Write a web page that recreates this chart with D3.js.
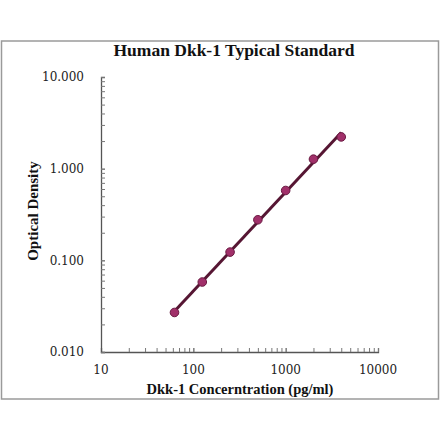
<!DOCTYPE html>
<html>
<head>
<meta charset="utf-8">
<script src="https://cdn.jsdelivr.net/npm/d3@7"></script>
<style>
  body { margin: 0; background: #fff; }
  text { font-family: "Liberation Serif", "Times New Roman", serif; fill: #111; }
  text.tick-label { font-family: "DejaVu Serif", serif; font-size: 12px; fill: #222; }
</style>
</head>
<body>
<script>
var width = 440,
    height = 441;

// standard curve data
var concentrations = [62.5, 125, 250, 500, 1000, 2000, 4000];
var densities = [0.027, 0.058, 0.123, 0.277, 0.578, 1.27, 2.22];
var xTicks = [10, 100, 1000, 10000];
var yTicks = [0.01, 0.1, 1, 10];

var margin = {left: 101, right: 62, top: 77, bottom: 89};

var x = d3.scaleLog()
    .domain([10, 10000])
    .range([margin.left, width - margin.right]);

var y = d3.scaleLog()
    .domain([0.01, 10])
    .range([height - margin.bottom, margin.top]);

var svg = d3.select("body").append("svg")
    .attr("width", width)
    .attr("height", height);

// outer frame
svg.append("rect")
    .attr("x", 1.5)
    .attr("y", 41)
    .attr("width", 437)
    .attr("height", 358)
    .style("fill", "none")
    .style("stroke", "#9a9a9a")
    .style("stroke-width", 1.5);

svg.append("text")
    .attr("x", 234)
    .attr("y", 55.5)
    .attr("text-anchor", "middle")
    .style("font-size", "17.5px")
    .style("font-weight", "bold")
    .text("Human Dkk-1 Typical Standard");

// minor tick positions
function minors(lo, hi) {
    var arr = [];
    for (var e = lo; e < hi; e++) {
        for (var k = 1; k <= 10; k++) {
            arr.push(k * Math.pow(10, e));
        }
    }
    return arr;
}

var xAxis = d3.axisTop(x)
    .tickValues(minors(1, 4))
    .tickSize(4)
    .tickFormat("");
var gx = svg.append("g")
    .attr("transform", "translate(0," + y(0.01) + ")")
    .call(xAxis);

var yAxis = d3.axisRight(y)
    .tickValues(minors(-2, 1))
    .tickSize(4)
    .tickFormat("");
var gy = svg.append("g")
    .attr("transform", "translate(" + x(10) + ",0)")
    .call(yAxis);

[gx, gy].forEach(function(g) {
    g.select(".domain").style("stroke", "#555").style("stroke-width", 1.3);
    g.selectAll(".tick line").style("stroke", "#777");
});

svg.selectAll(".xlab")
    .data(xTicks)
    .enter().append("text")
    .attr("class", "tick-label")
    .attr("x", function(d) { return x(d); })
    .attr("y", y(0.01) + 22)
    .attr("text-anchor", "middle")
    .text(function(d) { return d; });

svg.selectAll(".ylab")
    .data(yTicks)
    .enter().append("text")
    .attr("class", "tick-label")
    .attr("x", 84)
    .attr("y", function(d) { return y(d); })
    .attr("dy", ".35em")
    .attr("text-anchor", "end")
    .text(function(d) { return d.toFixed(3); });

svg.append("text")
    .attr("x", 240)
    .attr("y", 394)
    .attr("text-anchor", "middle")
    .style("font-size", "14.5px")
    .style("font-weight", "bold")
    .text("Dkk-1 Concerntration (pg/ml)");

svg.append("text")
    .attr("transform", "translate(37.5,211) rotate(-90)")
    .attr("text-anchor", "middle")
    .style("font-size", "15px")
    .style("font-weight", "bold")
    .text("Optical Density");

// log-log least squares fit line
var lx = concentrations.map(Math.log10),
    ly = densities.map(Math.log10),
    mx = d3.mean(lx), my = d3.mean(ly);
var slope = d3.sum(lx, function(v, i) { return (v - mx) * (ly[i] - my); }) /
            d3.sum(lx, function(v) { return (v - mx) * (v - mx); });
var icpt = my - slope * mx;
var ends = d3.extent(concentrations);

var line = d3.line()
    .x(function(d) { return x(d); })
    .y(function(d) { return y(Math.pow(10, icpt + slope * Math.log10(d))); });

svg.append("path")
    .datum(ends)
    .attr("d", line)
    .style("fill", "none")
    .style("stroke", "#561633")
    .style("stroke-width", 3);

svg.selectAll(".pt")
    .data(concentrations)
    .enter().append("circle")
    .attr("cx", function(d) { return x(d); })
    .attr("cy", function(d, i) { return y(densities[i]); })
    .attr("r", 4.3)
    .style("fill", "#a1306a")
    .style("stroke", "#6a1a42")
    .style("stroke-width", 1);
</script>
</body>
</html>
